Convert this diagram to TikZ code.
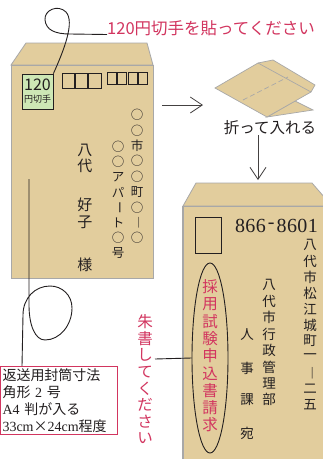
\documentclass[tikz,border=0pt]{standalone}
\usepackage{fontspec}
\setmainfont{Liberation Serif}
\newfontfamily\jp{Noto Sans CJK JP}
\usetikzlibrary{arrows.meta,shapes.geometric}

\definecolor{kraft}{HTML}{E2CD9D}
\definecolor{edge}{HTML}{A8A8A8}
\definecolor{stampgreen}{HTML}{CDE7B5}
\definecolor{shu}{HTML}{D2355F}
\definecolor{ink}{HTML}{231F20}

\tikzset{
	envelope/.style={fill=kraft, draw=edge, line width=0.8pt},
	pointer/.style={draw=ink!85, line width=0.8pt, -{Straight Barb[length=12pt, width=16pt]}},
	string/.style={draw=ink, line width=0.9pt},
	vchar/.style={inner sep=0pt, text=ink, font=\jp\fontsize{#1}{#1}\selectfont},
	redchar/.style={inner sep=0pt, text=shu, font=\jp\fontsize{15.5}{16}\selectfont},
	zip/.style={inner sep=0pt, text=ink, font=\rmfamily\fontsize{20}{20}\selectfont}
}

\begin{document}
\begin{tikzpicture}[x=1pt, y=-1pt]
	\clip (0,0) rectangle (323,459);
	\fill[white] (0,0) rectangle (323,459);

	% return envelope, front side
	\draw[envelope] (26,43) -- (147,43) -- (153,65) -- (11,65) -- cycle;
	\draw[envelope] (11,65) rectangle (153,278);

	\node[draw=ink, line width=0.8pt, fill=stampgreen, minimum width=31pt, minimum height=35pt,
		inner sep=0pt, align=center, font=\jp, text=ink] (stamp) at (37.5,91.5)
		{\fontsize{16}{14}\selectfont 120\\\fontsize{9}{11}\selectfont 円切手};

	\foreach \i in {0,1,2}
		\draw[ink, line width=0.9pt] (62+13.3*\i,73) rectangle (74.5+13.3*\i,88);
	\foreach \i in {0,1,2,3}
		\draw[ink, line width=0.8pt] (107.5+10.2*\i,72) rectangle (116.5+10.2*\i,84);

	\foreach \c [count=\i from 0] in {○,○,市,○,○,町,○,{\rotatebox{-90}{―}},○}
		\node[vchar=12.5] at (137,115+15.4*\i) {\c};
	\foreach \c [count=\i from 0] in {○,○,ア,パ,{\rotatebox{-90}{ー}},ト,○,号}
		\node[vchar=12.5] at (118,147+15.1*\i) {\c};
	\foreach \c/\y in {八/150, 代/166, 好/205, 子/222, 様/265}
		\node[vchar=15] at (85,\y) {\c};

	\node[anchor=base west, inner sep=0pt, text=shu, font=\jp\fontsize{16.5}{17}\selectfont]
		(pastelabel) at (107,34.5) {120円切手を貼ってください};
	\draw[string] (stamp.north east) .. controls (64,50) and (75,22) .. (66,12)
		.. controls (58,4) and (44,10) .. (45,20)
		.. controls (46,30) and (55,34) .. (70,34) -- (pastelabel.base west);

	% size note
	\node[draw=shu, line width=1pt, fill=white, anchor=north west, text width=113pt,
		minimum height=68pt, inner sep=2pt, align=left, text=ink,
		font=\fontsize{14}{17}\selectfont] (sizebox) at (0,366)
		{{\jp 返送用封筒寸法}\\{\jp 角形} 2 {\jp 号}\\A4 {\jp 判が入る}\\33cm{\jp ×}24cm{\jp 程度}};
	\coordinate (strbottom) at (29,179);
	\draw[string] (strbottom) -- (29,305) .. controls (29,325) and (35,340) .. (45,340)
		.. controls (60,340) and (72,325) .. (72,308)
		.. controls (72,295) and (62,286) .. (50,286)
		.. controls (35,286) and (23,298) .. (23,315) -- ([xshift=22pt]sizebox.north west);

	% folded envelope
	\draw[envelope, line width=0.7pt] (267,117) -- (313,110) -- (295,101) -- cycle;
	\draw[envelope, line width=0.7pt] (215,88) -- (258,63) -- (273,60) -- (315,85)
		-- (311,92) -- (267,117) -- cycle;
	\draw[edge, line width=0.7pt] (258,63) -- (311,92);
	\draw[edge, line width=0.7pt, dash pattern=on 5pt off 3pt] (243,100) -- (288,77);

	\coordinate (r1) at (162,105);
	\coordinate (r2) at (203,105);
	\draw[pointer] (r1) -- (r2);

	\node[inner sep=0pt, text=ink, font=\jp\fontsize{15.5}{16}\selectfont] (foldlabel) at (270,128) {折って入れる};
	\coordinate (d2) at (258,180);
	\draw[pointer] (foldlabel.south -| d2) -- (d2);

	% application envelope, front side
	\draw[envelope] (196,183) -- (312,183) -- (332,206) -- (183,206) -- cycle;
	\fill[kraft] (183,206) rectangle (330,470);
	\draw[edge, line width=1pt] (183,206) -- (330,206);
	\draw[edge, line width=2pt] (183,206) -- (183,470);

	\draw[ink, line width=0.9pt] (195,217) rectangle (221,253);
	\foreach \d [count=\i from 0] in {8,6,6,-,8,6,0,1}
		\node[zip] at (240+10.4*\i,226) {\d};

	\foreach \c [count=\i from 0] in {八,代,市,松,江,城,町,一,{\rotatebox{-90}{―}},二,五}
		\node[vchar=13.5] at (310,245+16*\i) {\c};
	\foreach \c [count=\i from 0] in {八,代,市,行,政,管,理,部}
		\node[vchar=13.5] at (269,285+16.4*\i) {\c};
	\foreach \c/\y in {人/335, 事/368, 課/400, 宛/433}
		\node[vchar=13.5] at (247,\y) {\c};

	\node[draw=ink, line width=0.9pt, ellipse, minimum width=36pt, minimum height=190pt] (seal) at (210,358) {};
	\foreach \c [count=\i from 0] in {採,用,試,験,申,込,書,請,求}
		\node[redchar] at (210,287+17.25*\i) {\c};

	\foreach \c [count=\i from 0] in {朱,書,し,て,く,だ,さ,い}
		\node[redchar] at (145,322+16.6*\i) {\c};
	\coordinate (hint) at (155,359);
	\draw[ink, line width=0.9pt] (hint) -- (seal.west);
\end{tikzpicture}
\end{document}
